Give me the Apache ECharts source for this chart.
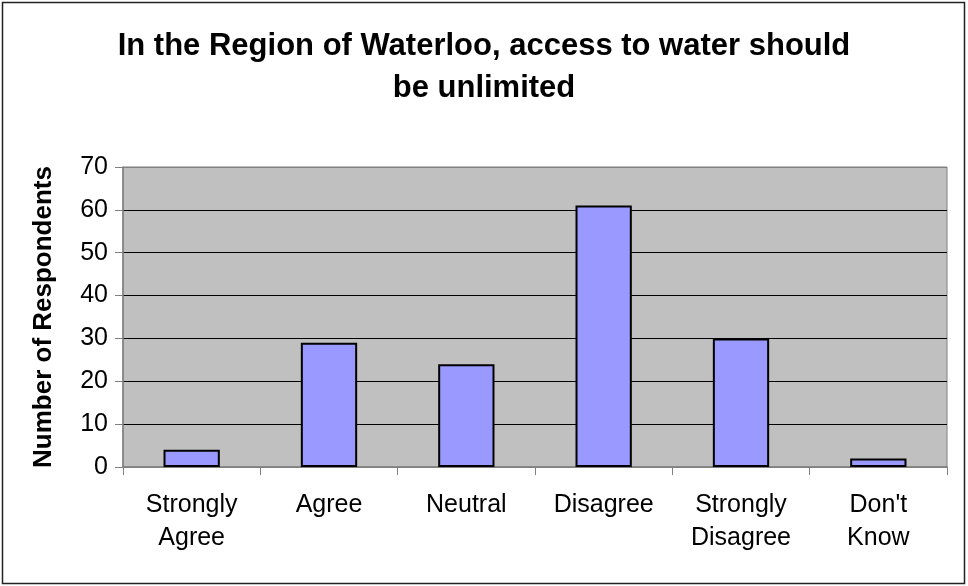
<!DOCTYPE html>
<html>
<head>
<meta charset="utf-8">
<script src="https://cdn.jsdelivr.net/npm/echarts@6/dist/echarts.min.js"></script>
<style>
  html, body { margin: 0; padding: 0; background: #fff; }
  #chart { width: 968px; height: 586px; }
</style>
</head>
<body>
<div id="chart"></div>
<script>
// Survey responses: "access to water should be unlimited"
const categories = ['Strongly\nAgree', 'Agree', 'Neutral', 'Disagree', 'Strongly\nDisagree', "Don't\nKnow"];
const respondents = [4, 29, 24, 61, 30, 2];
const yTicks = { min: 0, max: 70, interval: 10 };

const FONT = '"Liberation Sans", Arial, sans-serif';
const chart = echarts.init(document.getElementById('chart'), null, { renderer: 'canvas' });

chart.setOption({
  animation: false,
  backgroundColor: '#ffffff',
  title: {
    text: 'In the Region of Waterloo, access to water should\nbe unlimited',
    left: 'center',
    top: 20,
    textStyle: {
      fontFamily: FONT,
      fontWeight: 'bold',
      fontSize: 31,
      lineHeight: 42,
      color: '#000'
    }
  },
  graphic: [{
    type: 'rect',
    shape: { x: 2.5, y: 2.5, width: 962, height: 581 },
    style: { fill: 'none', stroke: '#222', lineWidth: 1.5 },
    silent: true
  }],
  grid: {
    left: 123, right: 21, top: 167, bottom: 119,
    show: true,
    backgroundColor: '#C0C0C0',
    borderColor: '#808080',
    borderWidth: 1
  },
  xAxis: {
    type: 'category',
    data: categories,
    axisLine: { lineStyle: { color: '#808080', width: 1.5 } },
    axisTick: { show: true, alignWithLabel: false, length: 8, lineStyle: { color: '#808080' } },
    axisLabel: {
      interval: 0,
      margin: 22,
      fontFamily: FONT,
      fontSize: 25,
      lineHeight: 33,
      color: '#000'
    }
  },
  yAxis: {
    type: 'value',
    min: yTicks.min,
    max: yTicks.max,
    interval: yTicks.interval,
    name: 'Number of Respondents',
    nameLocation: 'middle',
    nameGap: 66,
    nameTextStyle: {
      fontFamily: FONT,
      fontWeight: 'bold',
      fontSize: 26,
      color: '#000'
    },
    axisLine: { show: true, lineStyle: { color: '#808080', width: 1.5 } },
    axisTick: { show: true, length: 8, lineStyle: { color: '#808080' } },
    axisLabel: {
      margin: 15,
      fontFamily: FONT,
      fontSize: 25,
      color: '#000'
    },
    splitLine: {
      show: true,
      lineStyle: {
        color: ['#808080', '#000', '#000', '#000', '#000', '#000', '#000', '#808080'],
        width: 1
      }
    }
  },
  series: [{
    type: 'bar',
    data: respondents,
    barWidth: '41%',
    itemStyle: {
      color: '#9999FF',
      borderColor: '#000',
      borderWidth: 2
    }
  }]
});
</script>
</body>
</html>
